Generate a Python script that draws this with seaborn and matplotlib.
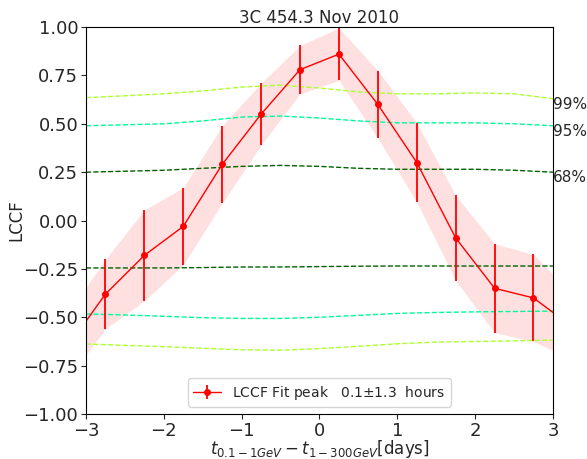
import numpy as np
import pandas as pd
import seaborn as sns
import matplotlib
matplotlib.use('Agg')
import matplotlib.pyplot as plt

# LCCF values
lag = [-3.25, -2.75, -2.25, -1.75, -1.25, -0.75, -0.25, 0.25, 0.75, 1.25, 1.75, 2.25, 2.75, 3.25]
lccf = [-0.66, -0.38, -0.18, -0.03, 0.29, 0.55, 0.78, 0.86, 0.60, 0.30, -0.09, -0.35, -0.40, -0.55]
lccf_err = [0.17, 0.18, 0.235, 0.20, 0.20, 0.16, 0.125, 0.135, 0.175, 0.205, 0.22, 0.23, 0.225, 0.17]

# significance levels
qlag = [-3.0, -2.5, -2.0, -1.5, -1.0, -0.5, 0.0, 0.5, 1.0, 1.5, 2.0, 2.5, 3.0]
q99_up = [0.635, 0.645, 0.655, 0.67, 0.69, 0.70, 0.685, 0.665, 0.655, 0.655, 0.66, 0.655, 0.63]
q95_up = [0.49, 0.495, 0.50, 0.515, 0.535, 0.54, 0.53, 0.515, 0.505, 0.505, 0.505, 0.50, 0.49]
q68_up = [0.25, 0.255, 0.26, 0.27, 0.28, 0.285, 0.28, 0.27, 0.265, 0.265, 0.265, 0.26, 0.25]
q68_lo = [-0.245, -0.245, -0.245, -0.243, -0.24, -0.24, -0.238, -0.236, -0.235, -0.235, -0.235, -0.235, -0.235]
q95_lo = [-0.483, -0.488, -0.495, -0.502, -0.506, -0.506, -0.50, -0.49, -0.48, -0.475, -0.472, -0.47, -0.468]
q99_lo = [-0.638, -0.645, -0.652, -0.66, -0.668, -0.67, -0.662, -0.65, -0.637, -0.628, -0.625, -0.622, -0.618]

sns.set_style('ticks')
plt.rcParams['font.family'] = ['DejaVu Sans']

fig = plt.figure(figsize=(5.87, 4.59), dpi=100)
ax = fig.add_axes([0.1465, 0.098, 0.7955, 0.843])

lev = pd.DataFrame({'lag': qlag})
for col, vals, c in [('99u', q99_up, '#adff2f'), ('95u', q95_up, '#00fa9a'), ('68u', q68_up, 'darkgreen'),
                     ('68l', q68_lo, 'darkgreen'), ('95l', q95_lo, '#00fa9a'), ('99l', q99_lo, '#adff2f')]:
    lev[col] = vals
    sns.lineplot(data=lev, x='lag', y=col, ax=ax, color=c, linestyle='--', linewidth=1)

d = pd.DataFrame({'lag': lag, 'lccf': lccf, 'err': lccf_err})
ax.fill_between(d['lag'], d['lccf'] - d['err'], d['lccf'] + d['err'], color='red', alpha=0.12, linewidth=0)
ax.errorbar(d['lag'], d['lccf'], yerr=d['err'], color='red', marker='o', markersize=4,
            linewidth=1, elinewidth=1.3, label='LCCF Fit peak   0.1$\\pm$1.3  hours')

for y, t in [(q99_up[-1], '99%'), (q95_up[-1], '95%'), (q68_up[-1], '68%')]:
    ax.text(3.0, y - 0.03, t, fontsize=11, va='center', ha='left')

ax.set_xlim(-3, 3)
ax.set_ylim(-1, 1)
ax.set_yticks(np.arange(-1, 1.01, 0.25))
ax.tick_params(labelsize=13, pad=2)
ax.set_title('3C 454.3 Nov 2010', fontsize=12, pad=3)
ax.set_xlabel('$t_{0.1-1GeV} - t_{1-300GeV}$[days]', fontsize=12, labelpad=-1)
ax.set_ylabel('LCCF', fontsize=12)
ax.yaxis.set_label_coords(-0.13, 0.5)
ax.legend(loc='lower center', fontsize=10)
for s in ax.spines.values():
    s.set_color('black')

fig.savefig('out.png', dpi=100)
